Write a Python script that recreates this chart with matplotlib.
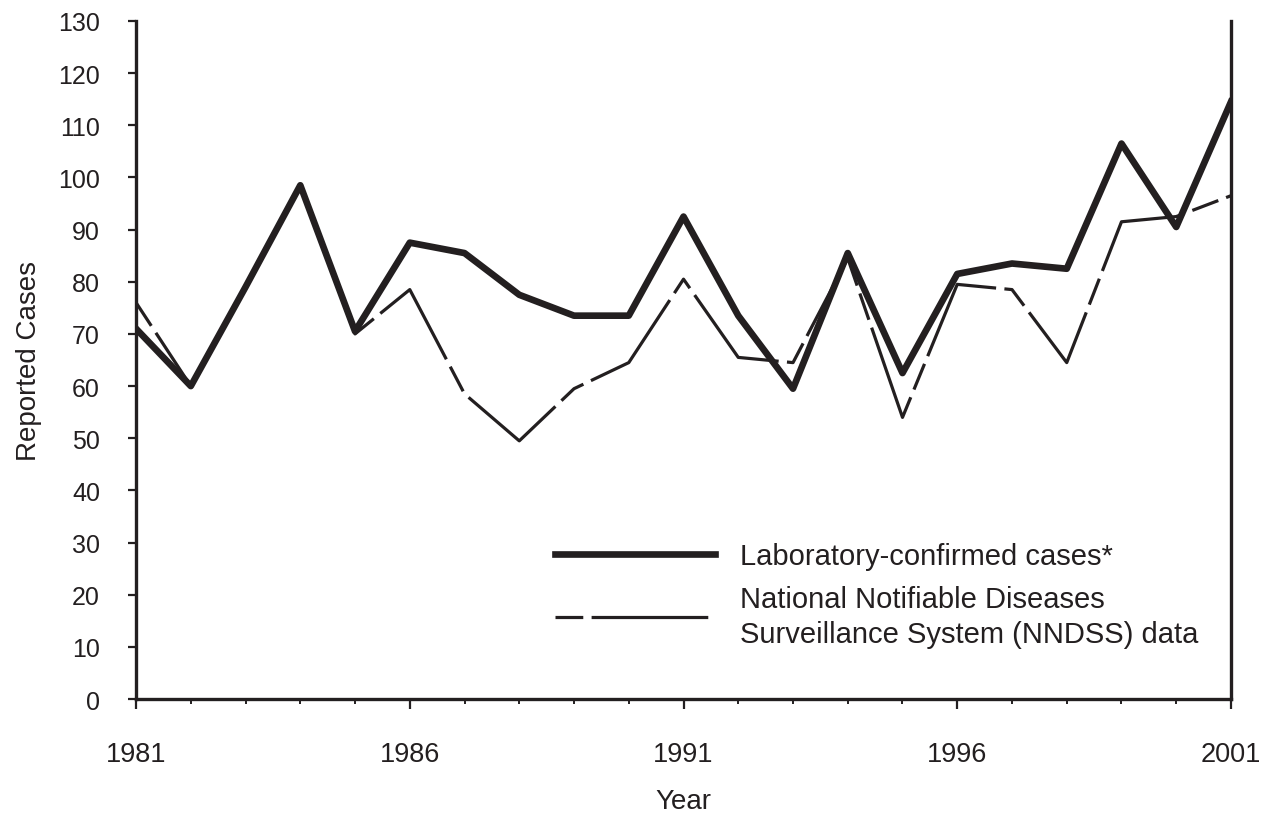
import matplotlib.pyplot as plt
from matplotlib.ticker import FixedLocator, MultipleLocator

years = list(range(1981, 2002))
lab_confirmed = [71, 60, 79, 98.5, 70.5, 87.5, 85.5, 77.5, 73.5, 73.5, 92.5,
                 73.5, 59.5, 85.5, 62.5, 81.5, 83.5, 82.5, 106.5, 90.5, 114.5]
nndss = [76, 60, 79, 98.5, 70, 78.5, 58.5, 49.5, 59.5, 64.5, 80.5,
         65.5, 64.5, 84.5, 54, 79.5, 78.5, 64.5, 91.5, 92.5, 96.5]
major_years = [1981, 1986, 1991, 1996, 2001]

ink = "#231f20"
font = "Liberation Sans"
plt.rcParams["lines.scale_dashes"] = False
plt.rcParams["font.family"] = font

fig = plt.figure(figsize=(12.68, 8.2), dpi=100)
ax = fig.add_axes([0.1073, 0.1463, 0.8635, 0.8269])

ax.plot(years, lab_confirmed, color=ink, linewidth=4.8,
        label="Laboratory-confirmed cases*")
ax.plot(years, nndss, color=ink, linewidth=2.3, dashes=(20, 6, 84, 6),
        dash_capstyle="butt",
        label="National Notifiable Diseases\nSurveillance System (NNDSS) data")

ax.set_xlim(1981, 2001)
ax.set_ylim(0, 130)
ax.yaxis.set_major_locator(MultipleLocator(10))
ax.xaxis.set_major_locator(FixedLocator(major_years))
ax.xaxis.set_minor_locator(MultipleLocator(1))

for side in ["left", "bottom", "right"]:
    ax.spines[side].set_linewidth(2.4)
    ax.spines[side].set_color(ink)
ax.spines["top"].set_visible(False)

ax.tick_params(axis="y", direction="out", length=6, width=1.6, labelsize=18,
               pad=20, color=ink, labelcolor=ink)
ax.tick_params(axis="x", which="major", direction="out", length=7.5, width=1.6,
               labelsize=19.5, pad=23, color=ink, labelcolor=ink)
ax.tick_params(axis="x", which="minor", direction="out", length=3.5, width=1.4,
               color=ink)

ax.set_xlabel("Year", fontsize=20, color=ink)
ax.set_ylabel("Reported Cases", fontsize=20, color=ink)
ax.xaxis.set_label_coords(0.5, -0.131)
ax.yaxis.set_label_coords(-0.086, 0.5)

leg = ax.legend(loc="upper left", bbox_to_anchor=(0.3826, 0.2316), frameon=False,
                prop={"size": 21}, handlelength=5.5, handletextpad=0.85,
                labelspacing=0.5, borderpad=0, borderaxespad=0)
for t in leg.get_texts():
    t.set_color(ink)
    t.set_linespacing(1.35)

fig.savefig("out.png", dpi=100)
